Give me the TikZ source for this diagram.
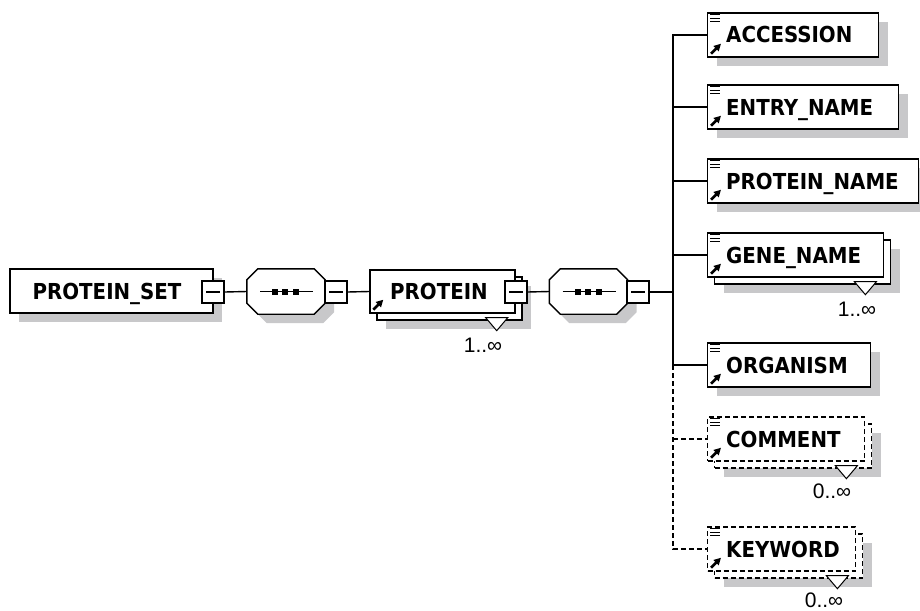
\documentclass[tikz,border=0pt]{standalone}
\usepackage{fontspec}
\setmainfont{Liberation Sans}
\newfontfamily\boxfont{DejaVu Sans Condensed}
\usetikzlibrary{calc,shadows,arrows.meta}
\definecolor{shadowc}{RGB}{200,200,202}
\newcommand\elemicons[1]{%
  \draw[iconline] ($(#1.north west)+(3,2.5)$) -- +(10,0);
  \draw[iconline] ($(#1.north west)+(3,6)$) -- +(10,0);
  \draw[iconline] ($(#1.north west)+(3,9.5)$) -- +(10,0);
  \draw[iconarrow] ($(#1.south west)+(4,-4)$) -- +(10,-10);
}
\newcommand\refarrow[1]{%
  \draw[iconarrow] ($(#1.south west)+(4,-4)$) -- +(10,-10);
}
\newcommand\cardtri[1]{%
  \draw[tri] ($(#1.south east)+(-30,4)$) -- ++(22,0) -- ++(-11,13) -- cycle;
}
% octagon outline around a node, offset by #2
\newcommand\octpath[2]{%
  ($(#1.north west)+(11+#2,#2)$) -- ($(#1.north east)+(-11+#2,#2)$) --
  ($(#1.north east)+(#2,11+#2)$) -- ($(#1.south east)+(#2,-11+#2)$) --
  ($(#1.south east)+(-11+#2,#2)$) -- ($(#1.south west)+(11+#2,#2)$) --
  ($(#1.south west)+(#2,-11+#2)$) -- ($(#1.north west)+(#2,11+#2)$) -- cycle}
\newcommand\seqshape[1]{%
  \fill[shadowc] \octpath{#1}{9};
  \draw[octo] \octpath{#1}{0};
  \draw[conn] ($(#1.center)+(-26,0)$) -- ($(#1.center)+(27,0)$);
  \fill ($(#1.center)+(-14,-3)$) rectangle +(6,6);
  \fill ($(#1.center)+(-4,-3)$) rectangle +(6,6);
  \fill ($(#1.center)+(7,-3)$) rectangle +(6,6);
}
\begin{document}
\begin{tikzpicture}[x=1pt,y=-1pt,
  box/.style={draw=black, fill=white, line width=1.4pt, inner sep=0pt, minimum height=44pt},
  sh/.style={general shadow={fill=shadowc, draw=none, shadow xshift=9pt, shadow yshift=-9pt}},
  multi/.style={general shadow={fill=shadowc, draw=none, shadow xshift=16pt, shadow yshift=-16pt},
                general shadow={fill=white, draw=black, line width=1.4pt, shadow xshift=7pt, shadow yshift=-7pt}},
  multidash/.style={general shadow={fill=shadowc, draw=none, shadow xshift=16pt, shadow yshift=-16pt},
                general shadow={fill=white, draw=black, line width=1.4pt, dash pattern=on 5pt off 3pt, shadow xshift=7pt, shadow yshift=-7pt}},
  opt/.style={dash pattern=on 5pt off 3pt},
  seq/.style={draw=none, inner sep=0pt, minimum width=78pt, minimum height=45pt},
  octo/.style={draw=black, fill=white, line width=1.4pt},
  minus/.style={draw=black, fill=white, line width=1.3pt, inner sep=0pt, minimum width=22pt, minimum height=22pt,
              path picture={\draw[line width=1.3pt] ($(path picture bounding box.center)+(-7,0)$) -- ($(path picture bounding box.center)+(7,0)$);}},
  txt/.style={font=\boxfont\bfseries\fontsize{22}{22}\selectfont, inner sep=0pt, text height=16pt, text depth=0pt},
  card/.style={font=\fontsize{21}{21}\selectfont, inner sep=0pt},
  conn/.style={line width=1.4pt},
  iconline/.style={line width=1.1pt},
  iconarrow/.style={line width=2.6pt, -{Triangle[length=7pt,width=7pt]}},
  tri/.style={draw=black, fill=white, line width=1pt}
]
\useasboundingbox (0,0) rectangle (920,610);

% root
\node[box, sh, minimum width=203pt] (pset) at (111.5,291) {};
\node[txt] (psett) at (107,291) {PROTEIN\_SET};
\node[minus] (m1) at (213,292) {};

\node[seq] (seq1) at (286,291.5) {};
\seqshape{seq1}
\node[minus] (m2) at (336,292) {};

% PROTEIN
\node[box, multi, minimum width=145pt, minimum height=43pt] (prot) at (442.5,291.5) {};
\node[txt] (prott) at (439,291) {PROTEIN};
\refarrow{prot}
\cardtri{prot}
\node[card] (protc) at (483,345) {1..∞};
\node[minus] (m3) at (516,292) {};

\node[seq] (seq2) at (588.5,291.5) {};
\seqshape{seq2}
\node[minus] (m4) at (638,292) {};

% children
\node[box, sh, anchor=west, minimum width=171pt] (acc) at (707,35) {};
\node[txt, anchor=west] (acct) at (726,35) {ACCESSION};
\elemicons{acc}

\node[box, sh, anchor=west, minimum width=191pt] (ent) at (707,107) {};
\node[txt, anchor=west] (entt) at (726,107) {ENTRY\_NAME};
\elemicons{ent}

\node[box, sh, anchor=west, minimum width=211pt] (pnm) at (707,181) {};
\node[txt, anchor=west] (pnmt) at (726,181) {PROTEIN\_NAME};
\elemicons{pnm}

\node[box, multi, anchor=west, minimum width=176pt] (gen) at (707,255) {};
\node[txt, anchor=west] (gent) at (726,255) {GENE\_NAME};
\elemicons{gen}
\cardtri{gen}
\node[card] (genc) at (857,309) {1..∞};

\node[box, sh, anchor=west, minimum width=163pt] (org) at (707,365) {};
\node[txt, anchor=west] (orgt) at (726,365) {ORGANISM};
\elemicons{org}

\node[box, opt, multidash, anchor=west, minimum width=157pt] (com) at (707,439) {};
\node[txt, anchor=west] (comt) at (726,439) {COMMENT};
\elemicons{com}
\cardtri{com}
\node[card] (comc) at (832,491) {0..∞};

\node[box, opt, multidash, anchor=west, minimum width=148pt] (key) at (707,549) {};
\node[txt, anchor=west] (keyt) at (726,549) {KEYWORD};
\elemicons{key}
\cardtri{key}
\node[card] (keyc) at (824,600) {0..∞};

% connectors
\coordinate (bus) at (673,292);
\draw[conn] (m1.east) -- (seq1.west);
\draw[conn] (m2.east) -- (prot.west);
\draw[conn] (m3.east) -- (seq2.west);
\draw[conn] (m4.east) -- (bus);
\draw[conn] (acc.west) -- (acc.west -| bus) -- (org.west -| bus) -- (org.west);
\draw[conn] (ent.west) -- (ent.west -| bus);
\draw[conn] (pnm.west) -- (pnm.west -| bus);
\draw[conn] (gen.west) -- (gen.west -| bus);
\draw[conn, opt] (org.west -| bus) -- (key.west -| bus) -- (key.west);
\draw[conn, opt] (com.west -| bus) -- (com.west);
\end{tikzpicture}
\end{document}
